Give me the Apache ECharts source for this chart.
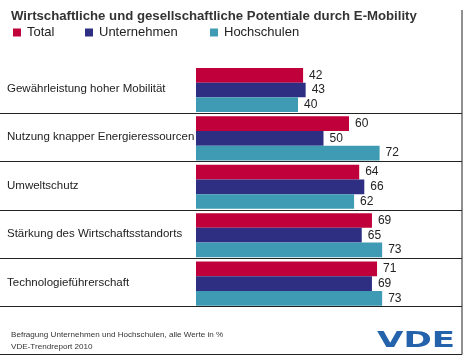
<!DOCTYPE html>
<html><head><meta charset="utf-8">
<script src="https://cdn.jsdelivr.net/npm/echarts@6/dist/echarts.min.js"></script>
<style>html,body{margin:0;padding:0;background:#fff}#c{width:467px;height:359px}</style>
</head><body><div id="c"></div>
<script>
const categories = ['Gewährleistung hoher Mobilität','Nutzung knapper Energieressourcen','Umweltschutz','Stärkung des Wirtschaftsstandorts','Technologieführerschaft'];
const seriesNames = ['Total','Unternehmen','Hochschulen'];
const totalValues = [42,60,64,69,71];
const unternehmenValues = [43,50,66,65,69];
const hochschulenValues = [40,72,62,73,73];
const colors = ['#c0003a','#2e2f83','#3e9bb3'];
const font = 'Liberation Sans, Arial, sans-serif';

const chart = echarts.init(document.getElementById('c'));
const vals = [totalValues, unternehmenValues, hochschulenValues];
const legendLeft = [8, 80, 205];
chart.setOption({
  animation: false,
  textStyle: {fontFamily: font},
  title: [
    {text: 'Wirtschaftliche und gesellschaftliche Potentiale durch E-Mobility', left: 6, top: 5,
     textStyle: {fontSize: 13.2, fontWeight: 'bold', color: '#333', fontFamily: font}},
    {text: 'Befragung Unternehmen und Hochschulen, alle Werte in %\nVDE-Trendreport 2010', left: 6, top: 324,
     textStyle: {fontSize: 8.1, fontWeight: 'normal', color: '#333', lineHeight: 12, fontFamily: font}}
  ],
  legend: seriesNames.map((n, i) => ({
    data: [n], left: legendLeft[i], top: 21, icon: 'rect', itemWidth: 8, itemHeight: 8, itemGap: 0,
    textStyle: {fontSize: 13, color: '#222', fontFamily: font, padding: [0,0,0,1]}
  })),
  grid: [
    {left: 196, width: 255, top: 65.8, height: 242},
    {left: 0, right: 5, top: 64.6, height: 242}
  ],
  xAxis: [
    {type: 'value', gridIndex: 0, min: 0, max: 100, show: false},
    {type: 'value', gridIndex: 1, min: 0, max: 1, show: false}
  ],
  yAxis: [
    {type: 'category', gridIndex: 0, data: categories, inverse: true, show: false},
    {type: 'category', gridIndex: 1, data: categories, inverse: true,
     axisLine: {show: false}, axisTick: {show: false},
     axisLabel: {inside: true, margin: 7, fontSize: 11.5, color: '#222', fontFamily: font},
     splitLine: {show: true, showMinLine: false, showMaxLine: true, lineStyle: {color: '#222', width: 1}}}
  ],
  series: seriesNames.map((n, i) => ({
    name: n, type: 'bar', xAxisIndex: 0, yAxisIndex: 0, data: vals[i],
    barWidth: 14.7, barGap: '0%', itemStyle: {color: colors[i]},
    label: {show: true, position: 'right', distance: 6, fontSize: 12, color: '#222', fontFamily: font}
  })),
  graphic: [
    {type: 'line', shape: {x1: 462, y1: 10, x2: 462, y2: 354.5}, style: {stroke: '#222', lineWidth: 1}},
    {type: 'line', shape: {x1: 0, y1: 354.5, x2: 462, y2: 354.5}, style: {stroke: '#222', lineWidth: 1}},
    {type: 'text', x: 377, y: 330, scaleX: 1.55,
     style: {text: 'VDE', fill: '#2462ab', font: '900 22px "DejaVu Sans"', textVerticalAlign: 'top'}}
  ]
});
</script></body></html>
